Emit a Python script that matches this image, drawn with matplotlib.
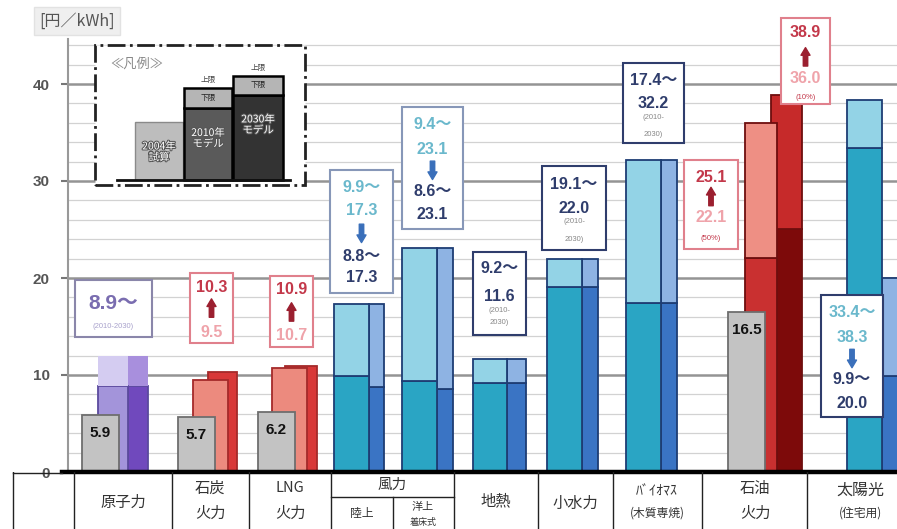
import numpy as np
import matplotlib
matplotlib.use('Agg')
import matplotlib.pyplot as plt
from matplotlib.patches import Rectangle
import matplotlib.patheffects as pe

plt.rcParams['font.family'] = ['Noto Sans CJK JP', 'DejaVu Sans']
NUM = ['Liberation Sans', 'Noto Sans CJK JP']

# ---- data: 発電コスト [円/kWh] ----
categories = ['原子力', '石炭火力', 'LNG火力', '風力(陸上)', '風力(洋上着床式)',
              '地熱', '小水力', 'バイオマス(木質専焼)', '石油火力', '太陽光(住宅用)']
cost_2004 = [5.9, 5.7, 6.2, None, None, None, None, None, 16.5, None]
low_2010 = [8.9, 9.5, 10.7, 9.9, 9.4, 9.2, 19.1, 17.4, 22.1, 33.4]
high_2010 = [None, None, None, 17.3, 23.1, 11.6, 22.0, 32.2, 36.0, 38.3]
low_2030 = [8.9, 10.3, 10.9, 8.8, 8.6, 9.2, 19.1, 17.4, 25.1, 9.9]
high_2030 = [None, None, None, 17.3, 23.1, 11.6, 22.0, 32.2, 38.9, 20.0]
nuclear_open = 12.0   # 原子力は「～」(上限なし) -> 淡色部分の高さ

# ---- layout (x in pixel units of the figure) ----
gray_x = [82, 178, 258, None, None, None, None, None, 728, None]
gray_w = 37
x10 = [98, 193, 272, 334, 402, 473, 547, 626, 745, 847]
w10 = [30, 35, 35, 35, 35, 34, 35, 35, 32, 35]
x30 = [128, 208, 285, 369, 437, 507, 582, 661, 771, 882]
w30 = [20, 29, 32, 15, 16, 19, 16, 16, 31, 20]
scheme = ['nuc', 'fos', 'fos', 'ren', 'ren', 'ren', 'ren', 'ren', 'oil', 'ren']

colors = {
    'nuc': dict(lo10='#a394da', hi10='#d4ccf1', lo30='#7049bd', hi30='#a88fdd', edge='#5b4a9e'),
    'fos': dict(lo10='#ec8a7e', hi10=None, lo30='#d83838', hi30=None, edge='#a52a2a'),
    'ren': dict(lo10='#2aa5c4', hi10='#93d3e6', lo30='#3a74c4', hi30='#8eb3e3', edge='#1e3d74'),
    'oil': dict(lo10='#c93030', hi10='#ee8f84', lo30='#7d0a0a', hi30='#c62a2a', edge='#6e0e0e'),
}

PX = 9.7  # pixels per 円/kWh
fig = plt.figure(figsize=(8.97, 5.29), dpi=100)
ax = fig.add_axes([68 / 897, 57 / 529, 829 / 897, 472 / 529])
ax.set_xlim(68, 897)
ax.set_ylim(0, 472 / PX)

# grid
ax.set_yticks([0, 10, 20, 30, 40])
ax.set_yticks(np.arange(2, 45, 2), minor=True)
ax.grid(which='minor', axis='y', color='#d2d2d2', lw=0.9, zorder=0)
ax.grid(which='major', axis='y', color='#949494', lw=1.8, zorder=0)
ax.tick_params(axis='y', which='major', length=5, width=1.5, color='#777', pad=8,
               labelsize=11, labelcolor='#555')
ax.tick_params(axis='y', which='minor', length=0)
for lab in ax.get_yticklabels():
    lab.set_fontfamily(NUM)
    lab.set_fontweight('bold')
ax.set_xticks([])
for s in ['top', 'right', 'bottom']:
    ax.spines[s].set_visible(False)
ax.spines['left'].set_color('#999')
ax.spines['left'].set_linewidth(1.5)
ax.spines['left'].set_bounds(0, 44.6)
ax.axhline(0, color='black', lw=3.2, zorder=8, xmin=-6 / 829, clip_on=False)


def bar(x, w, lo, hi, c_lo, c_hi, edge, z, open_top=False):
    ax.bar(x, lo, w, align='edge', color=c_lo, edgecolor=edge, lw=1.3, zorder=z)
    if hi is not None:
        ax.bar(x, hi - lo, w, bottom=lo, align='edge', color=c_hi,
               edgecolor='none' if open_top else edge, lw=1.3, zorder=z)


for i in range(len(categories)):
    c = colors[scheme[i]]
    h10, h30 = high_2010[i], high_2030[i]
    is_open = scheme[i] == 'nuc'
    if is_open:
        h10 = h30 = nuclear_open
    bar(x30[i], w30[i], low_2030[i], h30, c['lo30'], c['hi30'], c['edge'], 2, is_open)
    bar(x10[i], w10[i], low_2010[i], h10, c['lo10'], c['hi10'], c['edge'], 3, is_open)
    if cost_2004[i] is not None:
        ax.bar(gray_x[i], cost_2004[i], gray_w, align='edge', color='#c3c3c3',
               edgecolor='#6e6e6e', lw=1.3, zorder=4)
        ax.text(gray_x[i] + gray_w / 2, cost_2004[i] - 1.9, f'{cost_2004[i]:.1f}',
                ha='center', va='center', fontsize=11, fontweight='bold',
                family=NUM, color='#111', zorder=5)


# ---- annotation boxes ----
def box(x0, x1, y0, y1, ec):
    ax.add_patch(Rectangle((x0, y0), x1 - x0, y1 - y0, facecolor='white',
                           edgecolor=ec, lw=1.5, zorder=6))


def txt(x, y, s, color, size=11.5, weight='bold'):
    ax.text(x, y, s, ha='center', va='center', color=color, fontsize=size,
            fontweight=weight, family=NUM, zorder=7)


def arrow(x, y, up, color):
    d = 0.95
    y_from, y_to = (y - d, y + d) if up else (y + d, y - d)
    ax.annotate('', xy=(x, y_to), xytext=(x, y_from), zorder=7,
                arrowprops=dict(arrowstyle='simple,head_length=0.55,head_width=0.65,tail_width=0.32',
                                color=color, shrinkA=0, shrinkB=0))


def f(v):
    return f'{v:.1f}'


PINK, RED, LIGHT, DRED = '#e0808c', '#c3384a', '#efa3aa', '#9b1f2f'
NAVY, TEAL, BLUE = '#2f3d6c', '#6ab8cc', '#3a6fba'

# 原子力
box(75, 152, 13.9, 19.8, '#8a86aa')
txt(113, 17.4, f(low_2010[0]) + '～', '#7a6db0', 15)
txt(113, 15.0, '(2010-2030)', '#a9a2cc', 5.5, 'normal')
# 石炭, LNG
for i, (x0, x1, ys) in zip([1, 2], [(190, 233, (13.3, 20.5, 19.0, 16.9, 14.4)),
                                    (270, 313, (12.9, 20.2, 18.8, 16.5, 14.1))]):
    xc = (x0 + x1) / 2
    box(x0, x1, ys[0], ys[1], PINK)
    txt(xc, ys[2], f(low_2030[i]), RED)
    arrow(xc, ys[3], True, DRED)
    txt(xc, ys[4], f(low_2010[i]), LIGHT)
# 風力 (陸上, 洋上), 太陽光
for i, (x0, x1, ys, ec) in zip([3, 4, 9], [
        (330, 393, (18.5, 31.1, 29.3, 27.0, 24.6, 22.2, 20.0), '#8797b8'),
        (402, 463, (25.1, 37.6, 35.8, 33.2, 31.1, 28.9, 26.5), '#8797b8'),
        (821, 883, (5.7, 18.2, 16.4, 13.9, 11.7, 9.5, 7.1), NAVY)]):
    xc = (x0 + x1) / 2
    box(x0, x1, ys[0], ys[1], ec)
    txt(xc, ys[2], f(low_2010[i]) + '～', TEAL)
    txt(xc, ys[3], f(high_2010[i]), TEAL)
    arrow(xc, ys[4], False, BLUE)
    txt(xc, ys[5], f(low_2030[i]) + '～', NAVY)
    txt(xc, ys[6], f(high_2030[i]), NAVY)
# 地熱, 小水力, バイオマス
for i, (x0, x1, ys) in zip([5, 6, 7], [(473, 526, (14.1, 22.7, 21.0, 18.1, 16.7, 15.4)),
                                       (542, 606, (22.9, 31.5, 29.6, 27.2, 25.8, 24.0)),
                                       (623, 684, (33.9, 42.2, 40.4, 38.0, 36.5, 34.8))]):
    xc = (x0 + x1) / 2
    box(x0, x1, ys[0], ys[1], NAVY)
    txt(xc, ys[2], f(low_2010[i]) + '～', NAVY)
    txt(xc, ys[3], f(high_2010[i]), NAVY)
    txt(xc, ys[4], '(2010-', '#888', 5.5, 'normal')
    txt(xc, ys[5], '2030)', '#888', 5.5, 'normal')
# 石油 (設備利用率 50% / 10%)
for (x0, x1, ys, hi_v, lo_v, note) in [
        (684, 738, (23.0, 32.2, 30.4, 28.4, 26.2, 24.1), low_2030[8], low_2010[8], '(50%)'),
        (781, 830, (37.9, 46.8, 45.3, 42.8, 40.6, 38.6), high_2030[8], high_2010[8], '(10%)')]:
    xc = (x0 + x1) / 2
    box(x0, x1, ys[0], ys[1], PINK)
    txt(xc, ys[2], f(hi_v), RED)
    arrow(xc, ys[3], True, DRED)
    txt(xc, ys[4], f(lo_v), LIGHT)
    txt(xc, ys[5], note, RED, 5.5, 'normal')

# ---- legend 凡例 ----
ax.add_patch(Rectangle((95, 29.6), 210, 14.4, facecolor='white', edgecolor='#222',
                       lw=2, ls='-.', zorder=6))
ax.text(137, 42.0, '≪凡例≫', ha='center', va='center', fontsize=9.5, color='#888', zorder=7)
ax.plot([117, 290], [30.1, 30.1], color='#111', lw=2, zorder=8)
stroke = [pe.withStroke(linewidth=1.5, foreground='#555')]
ax.add_patch(Rectangle((135, 30.1), 48, 6.0, facecolor='#bdbdbd', edgecolor='#8a8a8a', lw=1, zorder=7))
ax.text(159, 33.0, '2004年\n試算', ha='center', va='center', fontsize=7.5, color='white',
        linespacing=1.1, path_effects=stroke, zorder=8)
for (lx, lw_, body_top, band_top, body_c, ty) in [(184, 48, 37.5, 39.6, '#5a5a5a', 34.4),
                                                   (233, 50, 38.9, 40.8, '#333333', 35.8)]:
    ax.add_patch(Rectangle((lx, 30.1), lw_, body_top - 30.1, facecolor=body_c,
                           edgecolor='black', lw=1.8, zorder=7))
    ax.add_patch(Rectangle((lx, body_top), lw_, band_top - body_top, facecolor='#b5b5b5',
                           edgecolor='black', lw=1.8, zorder=7))
    ax.text(lx + lw_ / 2, (body_top + band_top) / 2, '下限', ha='center', va='center',
            fontsize=5.5, color='#222', zorder=8)
    ax.text(lx + lw_ / 2, band_top + 0.8, '上限', ha='center', va='center',
            fontsize=5.5, color='#444', zorder=8)
    ax.text(lx + lw_ / 2, ty, f'{2010 if lx < 200 else 2030}年\nモデル', ha='center',
            va='center', fontsize=7.5, color='white', linespacing=1.1,
            path_effects=stroke, zorder=8)

# unit label
fig.text(77 / 897, 1 - 21 / 529, '[円／kWh]', ha='center', va='center', fontsize=11.5,
         color='#555', bbox=dict(facecolor='#efefef', edgecolor='#e2e2e2', pad=4))

# ---- category table below the axis ----
tb = fig.add_axes([0, 0, 1, 57 / 529])
tb.set_xlim(0, 897)
tb.set_ylim(529, 472)
tb.axis('off')
tb.plot([13, 62], [472.5, 472.5], color='#222', lw=1)
for xv in [13, 74, 172, 249, 331, 454, 538, 613, 702, 807]:
    tb.plot([xv, xv], [472, 529], color='#222', lw=1)
tb.plot([393, 393], [497, 529], color='#222', lw=1)
tb.plot([331, 454], [497, 497], color='#222', lw=1)
TC = '#333'
labels = [(123, 502, '原子力', 11), (210, 488, '石炭', 11), (210, 513, '火力', 11),
          (290, 488, 'LNG', 10.5), (290, 513, '火力', 11), (392, 485, '風力', 10.5),
          (362, 514, '陸上', 8.5), (423, 507, '洋上', 8), (423, 523, '着床式', 6.5),
          (496, 501, '地熱', 11), (575, 503, '小水力', 11), (657, 491, 'ﾊﾞｲｵﾏｽ', 10),
          (657, 513, '(木質専焼)', 8.5), (755, 488, '石油', 11), (755, 513, '火力', 11),
          (860, 490, '太陽光', 11.5), (860, 513, '(住宅用)', 8.5)]
for xv, yv, s, size in labels:
    tb.text(xv, yv, s, ha='center', va='center', fontsize=size, color=TC)

fig.savefig('out.png', dpi=100)
